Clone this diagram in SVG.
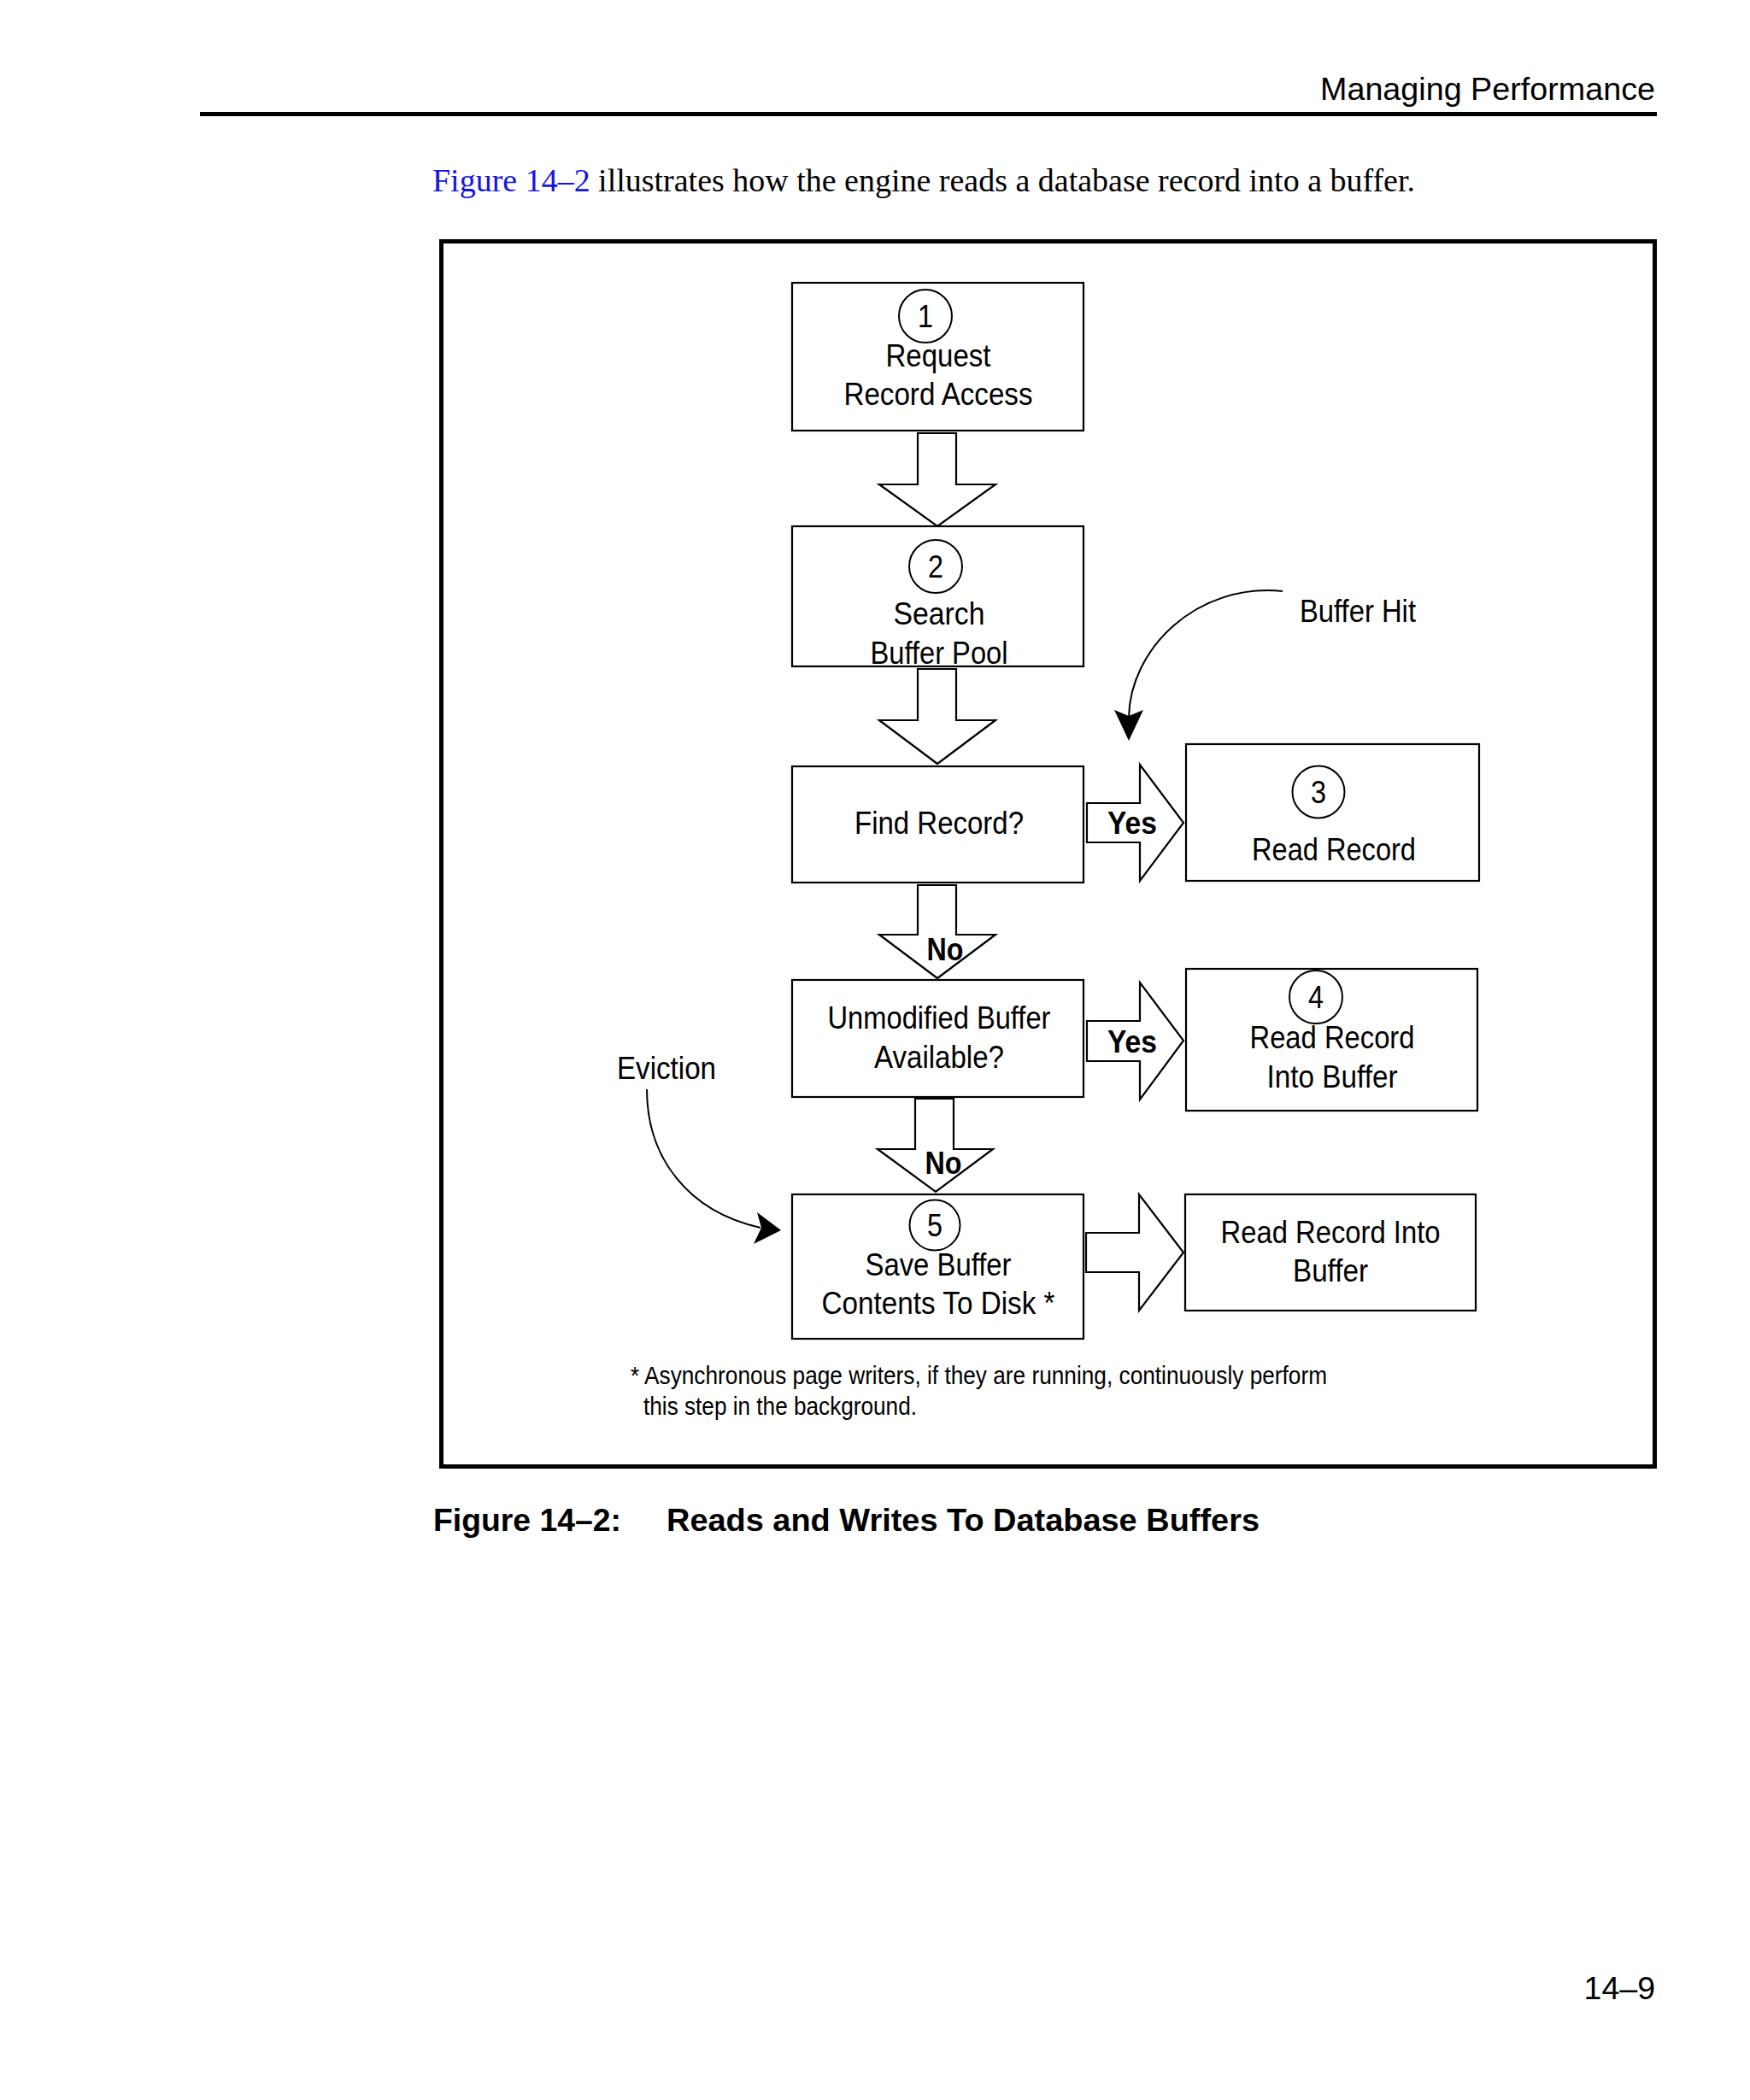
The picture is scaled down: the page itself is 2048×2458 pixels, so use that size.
<svg xmlns="http://www.w3.org/2000/svg" width="2048" height="2458" viewBox="0 0 2048 2458">
<style>
.page{font-family:"Liberation Sans",Arial,sans-serif;font-size:37.5px;fill:#000}
.serif{font-family:"Liberation Serif","Times New Roman",serif;font-size:37.5px;fill:#000}
.cap{font-family:"Liberation Sans",Arial,sans-serif;font-size:37.5px;font-weight:bold;fill:#000}
.t{font-family:"Liberation Sans",Arial,sans-serif;font-size:37.5px;fill:#000;text-anchor:middle}
.tl{font-family:"Liberation Sans",Arial,sans-serif;font-size:37.5px;fill:#000}
.b{font-family:"Liberation Sans",Arial,sans-serif;font-size:37.5px;font-weight:bold;fill:#000;text-anchor:middle}
.fn{font-family:"Liberation Sans",Arial,sans-serif;font-size:30px;fill:#000}
.box{fill:#fff;stroke:#000;stroke-width:2.2}
.circ{fill:#fff;stroke:#000;stroke-width:2}
.blk{fill:#fff;stroke:#000;stroke-width:2.2;stroke-linejoin:miter}
.crv{fill:none;stroke:#000;stroke-width:2}
</style>
<rect x="0" y="0" width="2048" height="2458" fill="#fff"/>

<g id="page-header">
  <text class="page" x="1545" y="117" textLength="392" lengthAdjust="spacingAndGlyphs">Managing Performance</text>
  <rect x="234" y="131" width="1705" height="5" fill="#000"/>
</g>
<g id="intro">
  <text class="serif" x="506" y="224" textLength="1150" lengthAdjust="spacingAndGlyphs"><tspan fill="#1414e6">Figure 14–2</tspan> illustrates how the engine reads a database record into a buffer.</text>
</g>
<rect id="figure-frame" x="516.5" y="282.5" width="1420" height="1434" fill="none" stroke="#000" stroke-width="5"/>

<g id="connectors">
  <polygon class="blk" points="1074,507 1119,507 1119,567 1165,567 1097,616 1029,567 1074,567"/>
  <polygon class="blk" points="1074,783 1119,783 1119,843 1165,843 1097,894 1029,843 1074,843"/>
  <polygon class="blk" points="1074,1036 1119,1036 1119,1094 1165,1094 1097,1145 1029,1094 1074,1094"/>
  <polygon class="blk" points="1071,1286 1116,1286 1116,1345 1162,1345 1095,1395 1027,1345 1071,1345"/>
  <polygon class="blk" points="1272,940 1334,940 1334,895 1385,963 1334,1031 1334,986 1272,986"/>
  <polygon class="blk" points="1272,1195 1334,1195 1334,1150 1385,1218 1334,1287 1334,1242 1272,1242"/>
  <polygon class="blk" points="1271,1443 1333,1443 1333,1398 1385,1466 1333,1534 1333,1489 1271,1489"/>
  <text class="b" x="1106" y="1124" textLength="43" lengthAdjust="spacingAndGlyphs">No</text>
  <text class="b" x="1104" y="1374" textLength="43" lengthAdjust="spacingAndGlyphs">No</text>
  <text class="b" x="1325" y="976" textLength="58" lengthAdjust="spacingAndGlyphs">Yes</text>
  <text class="b" x="1325" y="1232" textLength="58" lengthAdjust="spacingAndGlyphs">Yes</text>
  <g id="buffer-hit">
    <path class="crv" d="M1501,692 C1400,682 1322,760 1321,840"/>
    <polygon points="1321,867 1304,831 1321,838 1338,831" fill="#000"/>
    <text class="tl" x="1521" y="728" textLength="136" lengthAdjust="spacingAndGlyphs">Buffer Hit</text>
  </g>
  <g id="eviction">
    <path class="crv" d="M757,1275 C757,1355 805,1418 890,1437"/>
    <polygon points="914,1440 886,1419 891,1437 882,1456" fill="#000"/>
    <text class="tl" x="722" y="1263" textLength="116" lengthAdjust="spacingAndGlyphs">Eviction</text>
  </g>
</g>

<g id="n1">
  <rect class="box" x="927" y="331" width="341" height="173"/>
  <circle class="circ" cx="1083" cy="370" r="31"/>
  <text class="t" x="1083" y="383" textLength="18" lengthAdjust="spacingAndGlyphs">1</text>
  <text class="t" x="1098" y="429" textLength="123" lengthAdjust="spacingAndGlyphs">Request</text>
  <text class="t" x="1098" y="474" textLength="221" lengthAdjust="spacingAndGlyphs">Record Access</text>
</g>
<g id="n2">
  <rect class="box" x="927" y="616" width="341" height="164"/>
  <circle class="circ" cx="1095" cy="663" r="31"/>
  <text class="t" x="1095" y="676" textLength="18" lengthAdjust="spacingAndGlyphs">2</text>
  <text class="t" x="1099" y="731" textLength="107" lengthAdjust="spacingAndGlyphs">Search</text>
  <text class="t" x="1099" y="777" textLength="161" lengthAdjust="spacingAndGlyphs">Buffer Pool</text>
</g>
<g id="find">
  <rect class="box" x="927" y="897" width="341" height="136"/>
  <text class="t" x="1099" y="976" textLength="198" lengthAdjust="spacingAndGlyphs">Find Record?</text>
</g>
<g id="n3">
  <rect class="box" x="1388" y="871" width="343" height="160"/>
  <circle class="circ" cx="1543" cy="927" r="30.5"/>
  <text class="t" x="1543" y="940" textLength="18" lengthAdjust="spacingAndGlyphs">3</text>
  <text class="t" x="1561" y="1007" textLength="192" lengthAdjust="spacingAndGlyphs">Read Record</text>
</g>
<g id="unmodified">
  <rect class="box" x="927" y="1147" width="341" height="137"/>
  <text class="t" x="1099" y="1204" textLength="261" lengthAdjust="spacingAndGlyphs">Unmodified Buffer</text>
  <text class="t" x="1099" y="1250" textLength="152" lengthAdjust="spacingAndGlyphs">Available?</text>
</g>
<g id="n4">
  <rect class="box" x="1388" y="1134" width="341" height="166"/>
  <circle class="circ" cx="1540" cy="1167" r="31"/>
  <text class="t" x="1540" y="1180" textLength="18" lengthAdjust="spacingAndGlyphs">4</text>
  <text class="t" x="1559" y="1227" textLength="193" lengthAdjust="spacingAndGlyphs">Read Record</text>
  <text class="t" x="1559" y="1273" textLength="153" lengthAdjust="spacingAndGlyphs">Into Buffer</text>
</g>
<g id="n5">
  <rect class="box" x="927" y="1398" width="341" height="169"/>
  <circle class="circ" cx="1094" cy="1434" r="29.5"/>
  <text class="t" x="1094" y="1447" textLength="18" lengthAdjust="spacingAndGlyphs">5</text>
  <text class="t" x="1098" y="1493" textLength="171" lengthAdjust="spacingAndGlyphs">Save Buffer</text>
  <text class="t" x="1098" y="1538" textLength="273" lengthAdjust="spacingAndGlyphs">Contents To Disk *</text>
</g>
<g id="n6">
  <rect class="box" x="1387" y="1398" width="340" height="136"/>
  <text class="t" x="1557" y="1455" textLength="257" lengthAdjust="spacingAndGlyphs">Read Record Into</text>
  <text class="t" x="1557" y="1500" textLength="88" lengthAdjust="spacingAndGlyphs">Buffer</text>
</g>

<g id="footnote">
  <text class="fn" x="738" y="1620" textLength="815" lengthAdjust="spacingAndGlyphs">* Asynchronous page writers, if they are running, continuously perform</text>
  <text class="fn" x="753" y="1656" textLength="320" lengthAdjust="spacingAndGlyphs">this step in the background.</text>
</g>
<g id="caption">
  <text class="cap" x="507" y="1792" textLength="220" lengthAdjust="spacingAndGlyphs">Figure 14–2:</text>
  <text class="cap" x="780" y="1792" textLength="694" lengthAdjust="spacingAndGlyphs">Reads and Writes To Database Buffers</text>
</g>
<g id="page-number">
  <text class="page" x="1937" y="2340" text-anchor="end">14–9</text>
</g>
</svg>
